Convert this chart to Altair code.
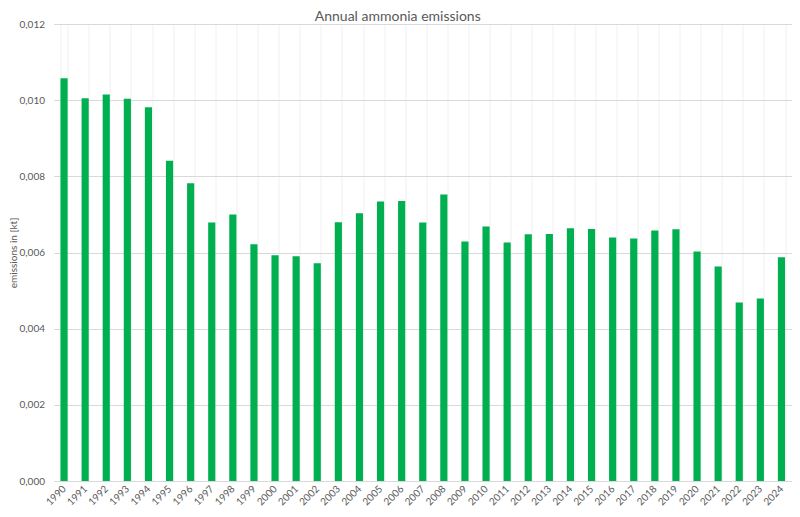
import altair as alt
import pandas as pd

years = [str(y) for y in range(1990, 2025)]
emissions = [
    0.010577, 0.010052, 0.010150, 0.010037, 0.009817, 0.008411, 0.007817,
    0.006787, 0.006996, 0.006217, 0.005930, 0.005903, 0.005720, 0.006795,
    0.007030, 0.007337, 0.007353, 0.006787, 0.007520, 0.006288, 0.006680,
    0.006262, 0.006480, 0.006488, 0.006637, 0.006620, 0.006393, 0.006367,
    0.006577, 0.006611, 0.006026, 0.005633, 0.004690, 0.004795, 0.005877,
]
y_ticks = [0.0, 0.002, 0.004, 0.006, 0.008, 0.010, 0.012]

df = pd.DataFrame({"year": years, "emissions": emissions})

FONT = "Lato"
TXT = "#595959"

chart = alt.Chart(df).mark_bar(color="#00B050").encode(
    x=alt.X(
        "year:N",
        sort=years,
        scale=alt.Scale(paddingInner=0.66, paddingOuter=0.33),
        axis=alt.Axis(
            title=None,
            labelAngle=-45,
            labelAlign="right",
            labelBaseline="middle",
            labelPadding=6,
            labelFontSize=10,
            labelFont=FONT,
            labelColor=TXT,
            ticks=False,
            domainColor="#d9d9d9",
            grid=True,
            gridColor="#f0f0f0",
            tickBand="extent",
            labelOverlap=False,
        ),
    ),
    y=alt.Y(
        "emissions:Q",
        scale=alt.Scale(domain=[0, 0.012], nice=False),
        axis=alt.Axis(
            title="emissions in [kt]",
            titleFont=FONT,
            titleFontSize=10,
            titleFontWeight="normal",
            titleColor=TXT,
            titlePadding=1,
            values=y_ticks,
            labelExpr="replace(format(datum.value, '.3f'), '.', ',')",
            labelFont=FONT,
            labelFontSize=10,
            labelColor=TXT,
            labelPadding=9,
            ticks=False,
            domain=False,
            gridColor="#d9d9d9",
        ),
    ),
).properties(
    width=738.5,
    height=457,
    padding={"left": 45.5, "top": 16, "right": 0, "bottom": 28},
    autosize=alt.AutoSizeParams(type="none"),
    title=alt.TitleParams(
        "Annual ammonia emissions",
        font=FONT,
        fontSize=14,
        fontWeight="normal",
        color=TXT,
        anchor="middle",
        dx=-25,
        dy=10,
        offset=5,
    ),
).configure_view(stroke="transparent")

chart.save("out.html", embed_options={"renderer": "svg", "actions": False})
